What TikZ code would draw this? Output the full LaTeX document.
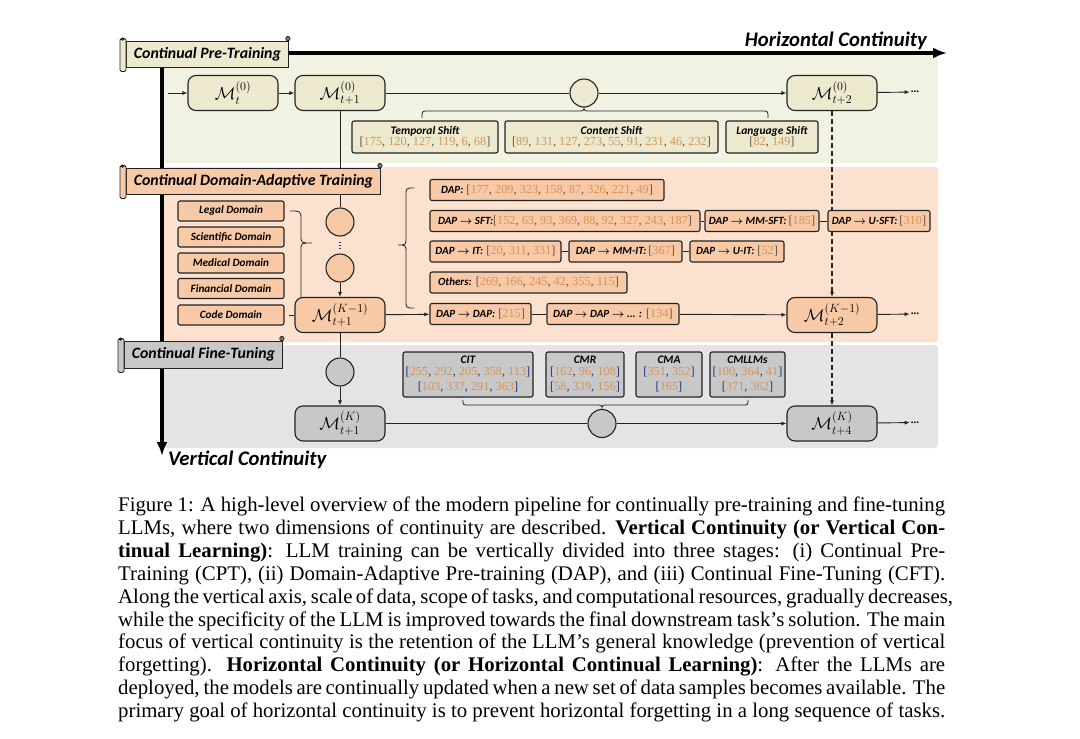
\documentclass[tikz,border=0pt]{standalone}
\usepackage{fontspec}
\setmainfont{Liberation Serif}
\newfontfamily\labfont{Carlito}
\usepackage{amsmath}
\usetikzlibrary{arrows.meta,calc}
\definecolor{cptbg}{HTML}{F2F2E2}
\definecolor{cptbox}{HTML}{EDE9CE}
\definecolor{datbg}{HTML}{FCE2CE}
\definecolor{datbox}{HTML}{F8C9A6}
\definecolor{cftbg}{HTML}{E4E4E4}
\definecolor{cftbox}{HTML}{C8C8C8}
\definecolor{cit}{RGB}{212,148,90}
\definecolor{brk}{RGB}{95,85,75}
\definecolor{blu}{RGB}{35,55,125}
\definecolor{lin}{HTML}{222222}
\newcommand{\labbi}{\labfont\bfseries\itshape}
\newcommand{\dl}[1]{{\fontsize{11}{13}\selectfont\labbi #1}}
\newcommand{\ttl}[1]{{\fontsize{11.5}{13}\selectfont\labbi #1}}
\newcommand{\rarr}{$\boldsymbol{\rightarrow}$}
\newcommand{\numsize}{\fontsize{12.3}{15}\selectfont}
\newcommand{\capfont}{\fontsize{20.8}{22.9}\selectfont}
\ExplSyntaxOn
\NewDocumentCommand \citel { O{brk} m }
  {
    \group_begin:
    \color{#1}[
    \bool_set_true:N \l_tmpa_bool
    \clist_map_inline:nn {#2}
      {
        \bool_if:NF \l_tmpa_bool { ,~ }
        \bool_set_false:N \l_tmpa_bool
        \textcolor{cit}{##1}
      }
    ]
    \group_end:
  }
\ExplSyntaxOff
\pgfdeclarelayer{background}
\pgfdeclarelayer{edges}
\pgfsetlayers{background,edges,main}
\tikzset{
  mnode/.style={draw=lin, line width=1.1pt, rounded corners=8pt, minimum width=90pt, minimum height=35pt, inner sep=0pt, font=\fontsize{17}{18}\selectfont},
  cnode/.style={circle, draw=lin, line width=1.1pt, minimum size=28pt, inner sep=0pt},
  bx/.style={draw=lin, line width=1.1pt, rounded corners=2pt, inner sep=1pt, align=center},
  dapbx/.style={bx, fill=datbox, minimum height=21pt, font=\numsize},
  cftbx/.style={bx, fill=cftbox, minimum height=45pt, font=\numsize},
  cptbx/.style={bx, fill=cptbox, minimum height=32pt, font=\numsize},
  dombx/.style={bx, fill=datbox, minimum width=106pt, minimum height=20pt, font=\fontsize{11.2}{13}\selectfont\labbi},
  conn/.style={line width=0.9pt, lin},
  arr/.style={conn, -{Latex[length=5pt,width=4pt]}},
  brc/.style={line width=0.8pt, lin},
  dashln/.style={line width=1.4pt, lin, dash pattern=on 5pt off 3pt, -{Latex[length=5pt,width=4pt]}},
  bigaxis/.style={line width=4pt, black, {Latex[length=14pt,width=11pt]}-{Latex[length=14pt,width=11pt]}},
  scrolllab/.style={draw=lin, line width=0.9pt, inner xsep=4pt, anchor=west, font=\fontsize{15.8}{17}\selectfont\labbi},
  rollst/.style={draw=lin, line width=0.9pt, rounded corners=1.5pt},
  dotsn/.style={inner sep=1pt, font=\fontsize{11}{12}\selectfont\bfseries},
  capln/.style={anchor=base west, inner sep=0pt, font=\capfont},
  axlab/.style={inner sep=0pt, font=\fontsize{20.7}{23}\selectfont\labbi}
}
\begin{document}
\begin{tikzpicture}[x=1pt,y=-1pt]
\useasboundingbox (0,0) rectangle (1080,739);
% ---------------- nodes ----------------
% axis coordinates
\coordinate (origin) at (162,53);
\coordinate (hend) at (947,53);
\coordinate (vend) at (162,456);
\node[axlab, anchor=east] (hlab) at (927,41) {Horizontal Continuity};
\node[axlab, anchor=west] (vlab) at (168,460) {Vertical Continuity};

% CPT
\coordinate (cpin) at (168,93);
\node[mnode, fill=cptbox] (Mt0) at (233,93) {$\mathcal{M}^{(0)}_{t}$};
\node[mnode, fill=cptbox] (Mt10) at (340,93) {$\mathcal{M}^{(0)}_{t+1}$};
\node[cnode, fill=cptbox] (cc1) at (584,93) {};
\node[mnode, fill=cptbox] (Mt20) at (832,93) {$\mathcal{M}^{(0)}_{t+2}$};
\node[dotsn] (dots1) at (915,92) {...};
\node[cptbx, minimum width=146pt] (ts) at (425,137) {\ttl{Temporal Shift}\\[-4pt]\citel{175, 120, 127, 119, 6, 68}};
\node[cptbx, minimum width=213pt] (cs) at (611.5,137) {\ttl{Content Shift}\\[-4pt]\citel{89, 131, 127, 273, 55, 91, 231, 46, 232}};
\node[cptbx, minimum width=92pt] (ls) at (772,137) {\ttl{Language Shift}\\[-4pt]\citel{82, 149}};

% DAT
\node[dombx] (legal) at (231,211) {Legal Domain};
\node[dombx] (sci) at (231,237) {Scientific Domain};
\node[dombx] (med) at (231,263) {Medical Domain};
\node[dombx] (fin) at (231,288.5) {Financial Domain};
\node[dombx] (code) at (231,315) {Code Domain};
\node[cnode, fill=datbox] (cd1) at (340,222) {};
\node[cnode, fill=datbox] (cd2) at (340,268) {};
\node[mnode, fill=datbox] (Mk1a) at (340,315) {$\mathcal{M}^{(K-1)}_{t+1}$};
\node[mnode, fill=datbox] (Mk1b) at (832,315) {$\mathcal{M}^{(K-1)}_{t+2}$};
\node[dotsn] (dots2) at (915,314) {...};
\node[dapbx, minimum width=234pt] (dap) at (547,190) {\dl{DAP:} \citel{177, 209, 323, 158, 87, 326, 221, 49}};
\node[dapbx, minimum width=270pt] (dsft) at (565,221) {\dl{DAP \rarr\ SFT:}\citel{152, 63, 93, 369, 88, 92, 327, 243, 187}};
\node[dapbx, minimum width=114pt] (mmsft) at (762,221) {\dl{DAP \rarr\ MM-SFT:}\,\citel{185}};
\node[dapbx, minimum width=102pt] (usft) at (879,221) {\dl{DAP \rarr\ U-SFT:}\,\citel{310}};
\node[dapbx, minimum width=131pt] (dit) at (495.5,251.5) {\dl{DAP \rarr\ IT:} \citel{20, 311, 331}};
\node[dapbx, minimum width=113pt] (mmit) at (625.5,251.5) {\dl{DAP \rarr\ MM-IT:}\,\citel{367}};
\node[dapbx, minimum width=94pt] (uit) at (737,251.5) {\dl{DAP \rarr\ U-IT:} \citel{52}};
\node[dapbx, minimum width=197pt] (oth) at (528.5,282.5) {\dl{Others:} \citel{269, 166, 245, 42, 355, 115}};
\node[dapbx, minimum width=101pt] (dd1) at (480.5,314) {\dl{DAP \rarr\ DAP:} \citel{215}};
\node[dapbx, minimum width=132pt] (dd2) at (613,314) {\dl{DAP \rarr\ DAP \rarr\ ... :} \citel{134}};

% CFT
\node[cnode, fill=cftbox] (cf1) at (340,372) {};
\node[mnode, fill=cftbox] (Mka) at (340,423.5) {$\mathcal{M}^{(K)}_{t+1}$};
\node[cnode, fill=cftbox] (cf2) at (602,423.5) {};
\node[mnode, fill=cftbox] (Mkb) at (832,423.5) {$\mathcal{M}^{(K)}_{t+4}$};
\node[dotsn] (dots3) at (915,422.5) {...};
\node[cftbx, minimum width=130pt] (cit) at (468,374.5) {\ttl{CIT}\\[-3pt]\citel[blu]{255, 292, 205, 358, 113}\\\citel[blu]{103, 337, 291, 363}};
\node[cftbx, minimum width=78pt] (cmr) at (585,374.5) {\ttl{CMR}\\[-3pt]\citel[blu]{162, 96, 108}\\\citel[blu]{58, 339, 156}};
\node[cftbx, minimum width=66pt] (cma) at (669,374.5) {\ttl{CMA}\\[-3pt]\citel[blu]{351, 352}\\\citel[blu]{165}};
\node[cftbx, minimum width=75pt] (cml) at (747.5,374.5) {\ttl{CMLLMs}\\[-3pt]\citel[blu]{100, 364, 41}\\\citel[blu]{371, 362}};

% scroll labels
\node[scrolllab, fill=cptbox, minimum height=26pt, minimum width=162pt] (lcpt) at (126,54) {Continual Pre-Training};
\node[scrolllab, fill=datbox, minimum height=26pt, minimum width=254pt] (ldat) at (126,181) {Continual Domain-Adaptive Training};
\node[scrolllab, fill=cftbox, minimum height=27pt, minimum width=158pt] (lcft) at (124,354.5) {Continual Fine-Tuning};
\foreach \lab/\col in {lcpt/cptbox, ldat/datbox, lcft/cftbox}{
  \draw[rollst, fill=\col] ([xshift=-6pt,yshift=2pt]\lab.north west) rectangle ([yshift=-4pt]\lab.south west);
  \fill[lin] ([xshift=-3.5pt,yshift=1.5pt]\lab.north west) circle (1.8pt);
  \draw[line width=0.7pt, draw=lin, fill=black!55] ([xshift=-1pt,yshift=2pt]\lab.north east) circle (2.2pt);
}

% caption
\node[capln] (c1) at (118,511.5) {\makebox[827pt][s]{Figure 1: A high-level overview of the modern pipeline for continually pre-training and fine-tuning}};
\node[capln] (c2) at (118,534.4) {\makebox[827pt][s]{LLMs, where two dimensions of continuity are described. \textbf{Vertical Continuity (or Vertical Con-}}};
\node[capln] (c3) at (118,557.3) {\makebox[827pt][s]{\textbf{tinual Learning)}: LLM training can be vertically divided into three stages: (i) Continual Pre-}};
\node[capln] (c4) at (118,580.2) {\makebox[827pt][s]{Training (CPT), (ii) Domain-Adaptive Pre-training (DAP), and (iii) Continual Fine-Tuning (CFT).}};
\node[capln] (c5) at (118,603.1) {\makebox[827pt][s]{Along the vertical axis, scale of data, scope of tasks, and computational resources, gradually decreases,}};
\node[capln] (c6) at (118,626.0) {\makebox[827pt][s]{while the specificity of the LLM is improved towards the final downstream task’s solution. The main}};
\node[capln] (c7) at (118,648.9) {\makebox[827pt][s]{focus of vertical continuity is the retention of the LLM’s general knowledge (prevention of vertical}};
\node[capln] (c8) at (118,671.8) {\makebox[827pt][s]{forgetting). \textbf{Horizontal Continuity (or Horizontal Continual Learning)}: After the LLMs are}};
\node[capln] (c9) at (118,694.7) {\makebox[827pt][s]{deployed, the models are continually updated when a new set of data samples becomes available. The}};
\node[capln] (c10) at (118,717.6) {\makebox[827pt][s]{primary goal of horizontal continuity is to prevent horizontal forgetting in a long sequence of tasks.}};

% ---------------- background ----------------
\begin{pgfonlayer}{background}
\fill[white] (0,0) rectangle (1080,739);
\fill[cptbg, rounded corners=3pt] (164,55) rectangle (938,163);
\fill[datbg, rounded corners=3pt] (164,167) rectangle (938,342);
\fill[cftbg, rounded corners=3pt] (164,345) rectangle (938,448);
\end{pgfonlayer}

% ---------------- connectors ----------------
\begin{pgfonlayer}{edges}
\draw[bigaxis] (vend) -- (origin) -- (hend);
% CPT row
\draw[arr] (cpin) -- (Mt0);
\draw[arr] (Mt0) -- (Mt10);
\draw[conn] (Mt10) -- (cc1);
\draw[arr] (cc1) -- (Mt20);
\draw[arr] (Mt20) -- (dots1);
\draw[brc] (422,118) .. controls (422,111) .. (428,111) -- (578,111) .. controls (584,111) .. (584,106) .. controls (584,111) .. (590,111) -- (762,111) .. controls (768,111) .. (768,118);
% vertical chain
\draw[conn] (Mt10) -- (cd1);
\draw[line width=1.3pt, blu, dash pattern=on 1.3pt off 2pt] ([yshift=-5pt]cd1.south) -- ([yshift=3pt]cd2.north);
\draw[arr] (cd2) -- (Mk1a);
\draw[conn] (Mk1a) -- (cf1);
\draw[arr] (cf1) -- (Mka);
% DAT row
\draw[arr] (Mk1a) -- (dd1);
\draw[conn] (dd1) -- (dd2);
\draw[arr] (dd2) -- (Mk1b);
\draw[arr] (Mk1b) -- (dots2);
\draw[conn] (dsft) -- (mmsft);
\draw[conn] (mmsft) -- (usft);
\draw[conn] (dit) -- (mmit);
\draw[conn] (mmit) -- (uit);
\draw[conn] ([xshift=4pt]code.east) -- (Mk1a.west);
\draw[brc] (290,211) .. controls (301,211) .. (301,220) -- (301,236) .. controls (301,243) .. (312,243) .. controls (301,243) .. (301,250) -- (301,299);
\draw[brc] (414,188) .. controls (406,188) .. (406,196) -- (406,237) .. controls (406,245) .. (398,245) .. controls (406,245) .. (406,253) -- (406,300) .. controls (406,308) .. (414,308);
% dashed verticals
\draw[dashln] (Mt20) -- (Mk1b);
\draw[dashln] (Mk1b) -- (Mkb);
% CFT row
\draw[conn] (Mka) -- (cf2);
\draw[arr] (cf2) -- (Mkb);
\draw[arr] (Mkb) -- (dots3);
\draw[brc] (463,400) .. controls (463,405) .. (469,405) -- (596,405) .. controls (602,405) .. (602,410) .. controls (602,405) .. (608,405) -- (742,405) .. controls (748,405) .. (748,400);
\end{pgfonlayer}
\end{tikzpicture}
\end{document}
